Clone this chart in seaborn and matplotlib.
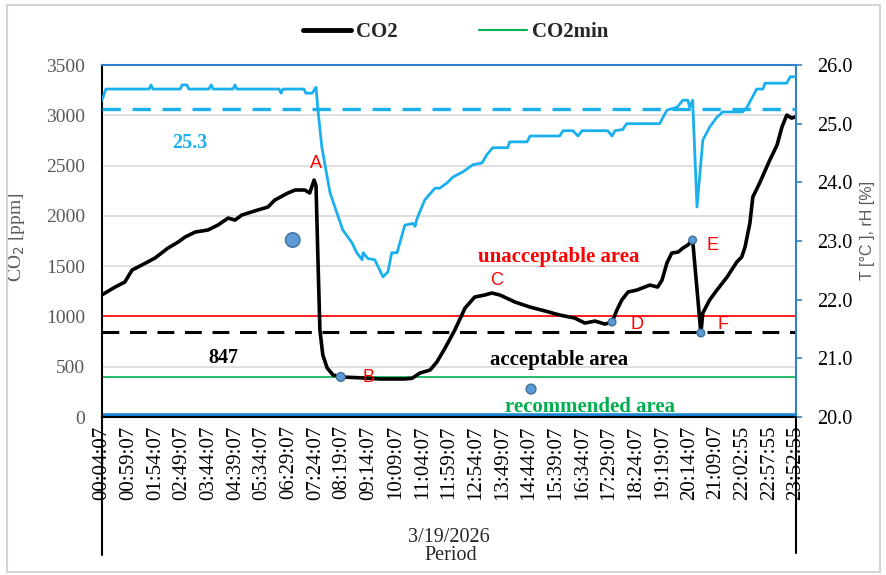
import matplotlib
matplotlib.use("Agg")
import matplotlib.pyplot as plt
import seaborn as sns
import pandas as pd
from matplotlib.lines import Line2D
from matplotlib.patches import Rectangle

# ---------------- data ----------------
tick_labels = ["00:04:07", "00:59:07", "01:54:07", "02:49:07", "03:44:07", "04:39:07",
               "05:34:07", "06:29:07", "07:24:07", "08:19:07", "09:14:07", "10:09:07",
               "11:04:07", "11:59:07", "12:54:07", "13:49:07", "14:44:07", "15:39:07",
               "16:34:07", "17:29:07", "18:24:07", "19:19:07", "20:14:07", "21:09:07",
               "22:02:55", "22:57:55", "23:52:55"]
tick_minutes = [55 * i for i in range(len(tick_labels))]

# CO2 [ppm] vs minutes since 00:04:07
co2_t = [0, 6, 27, 47, 62, 82, 109, 136, 157, 171, 192, 218, 239, 260, 274, 288, 321, 342,
         356, 383, 398, 418, 428, 437, 441, 445, 449, 455, 464, 476, 492, 531, 573, 624,
         639, 655, 676, 690, 707, 727, 748, 768, 789, 803, 820, 851, 882, 913, 943, 974,
         995, 1016, 1036, 1051, 1061, 1071, 1084, 1102, 1129, 1145, 1154, 1164, 1174,
         1187, 1197, 1207, 1217, 1234, 1238, 1252, 1267, 1288, 1308, 1318, 1325, 1335,
         1341, 1355, 1376, 1391, 1401, 1411, 1421, 1432]
co2_ppm = [1215, 1232, 1292, 1342, 1461, 1511, 1580, 1680, 1740, 1789, 1839, 1859, 1909,
           1978, 1958, 2008, 2058, 2088, 2157, 2227, 2257, 2257, 2227, 2356, 2300, 1561,
           865, 616, 487, 418, 398, 390, 378, 378, 385, 437, 467, 547, 686, 865, 1083,
           1193, 1213, 1233, 1213, 1143, 1093, 1054, 1014, 984, 934, 954, 924, 944, 1064,
           1163, 1243, 1262, 1312, 1292, 1362, 1531, 1630, 1640, 1680, 1710, 1760, 835,
           1034, 1163, 1262, 1392, 1541, 1590, 1690, 1928, 2187, 2326, 2555, 2704, 2883,
           3002, 2972, 2990]

# Temperature [degC] vs minutes
temp_t = [0, 8, 97, 101, 105, 161, 165, 175, 179, 220, 225, 229, 270, 274, 278, 365, 369,
          373, 416, 420, 433, 441, 445, 453, 464, 470, 484, 496, 515, 525, 536, 538, 548,
          562, 579, 589, 597, 608, 624, 641, 645, 649, 665, 686, 696, 711, 723, 744, 764,
          783, 793, 805, 836, 840, 876, 882, 943, 950, 970, 981, 989, 1042, 1051, 1057,
          1073, 1081, 1149, 1164, 1185, 1197, 1207, 1211, 1217, 1226, 1238, 1252, 1267,
          1279, 1320, 1329, 1349, 1362, 1366, 1411, 1418, 1432]
temp_c = [25.40, 25.59, 25.59, 25.66, 25.59, 25.59, 25.66, 25.66, 25.59, 25.59, 25.66,
          25.59, 25.59, 25.66, 25.59, 25.59, 25.52, 25.59, 25.59, 25.52, 25.52, 25.62,
          25.23, 24.60, 24.09, 23.82, 23.48, 23.19, 22.97, 22.80, 22.68, 22.80, 22.70,
          22.68, 22.39, 22.47, 22.80, 22.80, 23.27, 23.30, 23.25, 23.38, 23.70, 23.90,
          23.90, 23.99, 24.09, 24.18, 24.30, 24.33, 24.47, 24.59, 24.59, 24.69, 24.69,
          24.79, 24.79, 24.88, 24.88, 24.79, 24.88, 24.88, 24.79, 24.88, 24.90, 25.00,
          25.00, 25.23, 25.28, 25.40, 25.40, 25.28, 25.40, 23.58, 24.72, 24.94, 25.11,
          25.20, 25.20, 25.28, 25.59, 25.59, 25.69, 25.69, 25.80, 25.80]

co2_unacceptable = 1000
co2_mean = 847
co2_min = 400
temp_mean = 25.25
rh_floor = 15

point_labels = ["A", "B", "C", "D", "E", "F"]
point_label_t = [441, 550, 812, 1102, 1257, 1279]
point_label_ppm = [2525, 388, 1362, 924, 1710, 915]

dot_t = [393, 492, 884, 1051, 1217, 1234]
dot_ppm = [1760, 398, 278, 944, 1760, 835]
dot_size = [110, 40, 50, 30, 30, 30]

# ---------------- style ----------------
sns.set_theme(style="white")
plt.rcParams["font.family"] = ["Liberation Serif", "DejaVu Sans"]

W, H = 886, 575
fig = plt.figure(figsize=(W / 100, H / 100), dpi=100)
L, R, T, B = 102, 796, 65, 417
ax = fig.add_axes([L / W, 1 - B / H, (R - L) / W, (B - T) / H])
ax2 = ax.twinx()

blue_spine = "#2f80c8"
light_blue = "#1ab0ee"
gray_txt = "#595959"

ax.set_xlim(0, 1430)
ax.set_ylim(0, 3500)
ax2.set_ylim(20, 26)

ax.set_yticks(range(0, 3501, 500))
ax.yaxis.grid(True, color="#d9d9d9", lw=1.2)
ax.set_axisbelow(True)

# reference lines
ax.axhline(co2_unacceptable, color="#ff0000", lw=1.2, zorder=2)
ax.axhline(co2_mean, color="black", lw=2.2, ls=(0, (5.5, 3.5)), zorder=2)
ax.axhline(co2_min, color="#00b050", lw=1.2, zorder=2)
ax.axhline(rh_floor, color="#1a86d8", lw=2.6, zorder=2)

df_co2 = pd.DataFrame({"t": co2_t, "ppm": co2_ppm})
sns.lineplot(data=df_co2, x="t", y="ppm", ax=ax, color="black", lw=2.6,
             estimator=None, sort=False, zorder=4)

df_dots = pd.DataFrame({"t": dot_t, "ppm": dot_ppm, "s": dot_size})
sns.scatterplot(data=df_dots, x="t", y="ppm", ax=ax, size="s", sizes=(30, 110),
                color="#5b9bd5", edgecolor="#41719c", linewidth=1.0, legend=False, zorder=6)

df_t = pd.DataFrame({"t": temp_t, "c": temp_c})
sns.lineplot(data=df_t, x="t", y="c", ax=ax2, color=light_blue, lw=2.0,
             estimator=None, sort=False, zorder=3)
ax2.axhline(temp_mean, color=light_blue, lw=2.4, ls=(0, (5.5, 3.5)), zorder=3)

# annotations
for lab, tx, ty in zip(point_labels, point_label_t, point_label_ppm):
    ax.text(tx, ty, lab, color="#ff0000", fontsize=13, family="Liberation Sans",
            ha="center", va="center", zorder=7)

ax.text(181, 2724, "25.3", color=light_blue, fontsize=14.5, fontweight="bold",
        ha="center", va="center")
ax.text(250, 586, "847", color="black", fontsize=14.5, fontweight="bold",
        ha="center", va="center")
ax.text(941, 1590, "unacceptable area", color="#ff0000", fontsize=15,
        fontweight="bold", ha="center", va="center")
ax.text(941, 567, "acceptable area", color="black", fontsize=15,
        fontweight="bold", ha="center", va="center", zorder=7)
ax.text(1005, 99, "recommended area", color="#00b050", fontsize=15,
        fontweight="bold", ha="center", va="center", zorder=1)

# axes cosmetics
ax.set_xticks(tick_minutes)
ax.set_xticklabels(tick_labels, rotation=90, fontsize=15, color="black")
ax.tick_params(axis="x", length=0, pad=6)
ax.tick_params(axis="y", length=0, pad=12, labelsize=14, labelcolor=gray_txt)
ax2.set_yticks([20, 21, 22, 23, 24, 25, 26])
ax2.set_yticklabels([f"{v:.1f}" for v in [20, 21, 22, 23, 24, 25, 26]])
ax2.tick_params(axis="y", length=4, width=1.2, color=blue_spine, pad=11,
                labelsize=14.5, labelcolor="black", direction="out")
ax.set_xlabel("")
ax.set_ylabel("CO$_2$ [ppm]", fontsize=14, color=gray_txt)
ax.yaxis.set_label_coords(-0.108, 0.51)
ax2.set_ylabel("T [°C ], rH [%]", fontsize=11.5, color=gray_txt, family="Liberation Sans")
ax2.yaxis.set_label_coords(1.092, 0.53)

for s in ["top", "right"]:
    ax.spines[s].set_visible(False)
for s in ["left", "bottom"]:
    ax.spines[s].set_color("black")
    ax.spines[s].set_linewidth(1.5)
    ax2.spines[s].set_visible(False)
for s in ["top", "right"]:
    ax2.spines[s].set_color(blue_spine)
    ax2.spines[s].set_linewidth(1.5)

# category-axis style bracket lines and labels
fig.add_artist(Line2D([L / W, L / W], [1 - B / H, 1 - 555 / H], color="black", lw=1.5))
fig.add_artist(Line2D([R / W, R / W], [1 - B / H, 1 - 553 / H], color="black", lw=1.5))
fig.text((L + R) / 2 / W, 1 - 537 / H, "3/19/2026", fontsize=14.5, ha="center", va="center")
fig.text((L + R) / 2 / W + 0.002, 1 - 556 / H, "Period", fontsize=14.5, ha="center", va="center")

# legend
handles = [Line2D([], [], color="black", lw=3.5), Line2D([], [], color="#00b050", lw=1.5)]
fig.legend(handles, ["CO2", "CO2min"], loc="center", bbox_to_anchor=(0.514, 0.944),
           ncol=2, frameon=False, handlelength=2.3, handletextpad=0.25, columnspacing=3.9,
           prop={"family": "Liberation Serif", "weight": "bold", "size": 15})

# outer frame
fig.add_artist(Rectangle((7 / W, 3 / H), (880 - 7) / W, (570 - 3) / H, transform=fig.transFigure,
                         fill=False, edgecolor="#d4d4d4", lw=1.5))

fig.savefig("out.png", dpi=100)
